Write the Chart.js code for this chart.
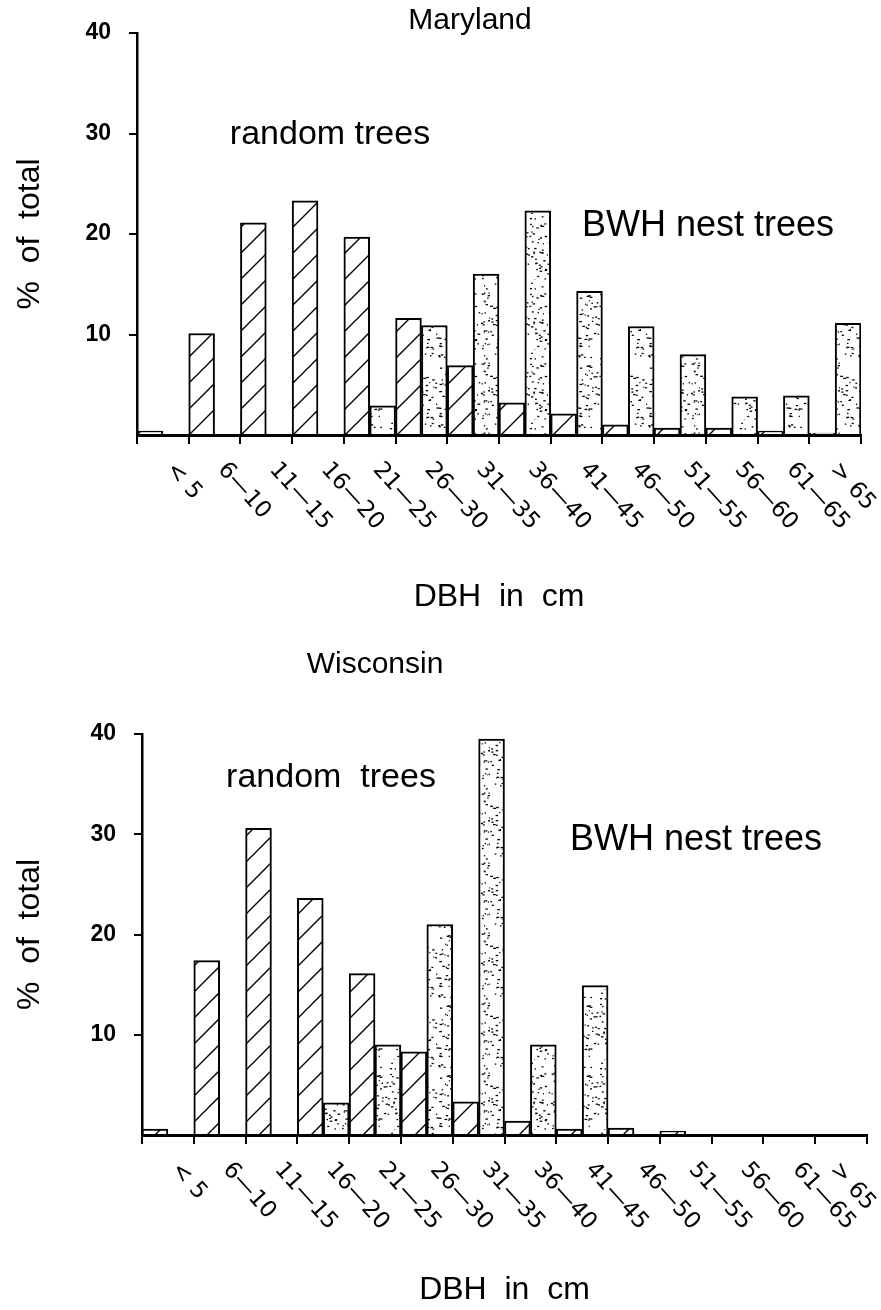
<!DOCTYPE html>
<html>
<head>
<meta charset="utf-8">
<script src="https://cdn.jsdelivr.net/npm/chart.js@4.4.1/dist/chart.umd.min.js"></script>
<style>
  html, body { margin: 0; padding: 0; background: #fff; }
  .box { position: relative; width: 881px; }
  canvas { display: block; }
</style>
</head>
<body>
<div class="box" style="height:640px"><canvas id="marylandChart" width="881" height="640"></canvas></div>
<div class="box" style="height:670px"><canvas id="wisconsinChart" width="881" height="670"></canvas></div>
<script>
  const dbhClasses = ["< 5", "6—10", "11—15", "16—20", "21—25", "26—30", "31—35", "36—40", "41—45", "46—50", "51—55", "56—60", "61—65", "> 65"]

  // % of total
  const marylandRandom = [0.4, 10.1, 21.1, 23.3, 19.7, 11.6, 6.9, 3.2, 2.1, 1.0, 0.7, 0.7, 0.4, 0.2]
  const marylandNest = [0, 0, 0, 0, 2.9, 10.9, 16.0, 22.3, 14.3, 10.8, 8.0, 3.8, 3.9, 11.1]

  const wisconsinRandom = [0.6, 17.4, 30.6, 23.6, 16.1, 8.3, 3.3, 1.4, 0.6, 0.7, 0.4, 0, 0, 0]
  const wisconsinNest = [0, 0, 0, 3.2, 9.0, 21.0, 39.5, 9.0, 14.9, 0, 0, 0, 0, 0]

  const yMax = 40
  const yStep = 10

  Chart.defaults.font.family = "'Liberation Sans', Arial, sans-serif"
  Chart.defaults.color = "#000"

  // diagonal hatching for random trees
  function hatchPattern() {
    const c = document.createElement("canvas")
    c.width = 26
    c.height = 26
    const g = c.getContext("2d")
    g.fillStyle = "#fff"
    g.fillRect(0, 0, 26, 26)
    g.strokeStyle = "#000"
    g.lineWidth = 1.4
    g.beginPath()
    for (const k of [-26, 0, 26]) {
      g.moveTo(-4, 30 + k)
      g.lineTo(30, -4 + k)
    }
    g.stroke()
    return g.createPattern(c, "repeat")
  }

  // stipple for nest trees (fixed hash so the texture is the same every run)
  function dotPattern() {
    const c = document.createElement("canvas")
    c.width = 70
    c.height = 70
    const g = c.getContext("2d")
    g.fillStyle = "#fff"
    g.fillRect(0, 0, 70, 70)
    g.fillStyle = "#000"
    const hash = (n) => {
      const v = Math.sin(n * 12.9898 + 78.233) * 43758.5453
      return v - Math.floor(v)
    }
    for (let i = 0; i < 150; i++) {
      const x = hash(i * 3 + 1) * 70
      const y = hash(i * 3 + 2) * 70
      const w = 1 + hash(i * 3 + 3) * 1.8
      g.fillRect(x, y, w, 1.3)
    }
    return g.createPattern(c, "repeat")
  }

  // slanted category labels (read downwards) + free text on the figure
  const paperText = {
    id: "paperText",
    afterDraw(chart, args, opts) {
      const ctx = chart.ctx
      const xs = chart.scales.x
      const angle = 48 * Math.PI / 180
      ctx.save()
      ctx.fillStyle = "#000"
      ctx.font = "23px 'DejaVu Sans'"
      ctx.textAlign = "left"
      ctx.textBaseline = "middle"
      xs.ticks.forEach((t, i) => {
        const w = ctx.measureText(dbhClasses[i]).width
        // keep the last label inside the page, as in the original
        const px = Math.min(xs.getPixelForTick(i) + 7, chart.width - w * Math.cos(angle) - 10)
        ctx.save()
        ctx.translate(px, xs.top + 31)
        ctx.rotate(angle)
        ctx.fillText(dbhClasses[i], 0, 0)
        ctx.restore()
      })
      ctx.textAlign = "center"
      opts.notes.forEach((n) => {
        ctx.font = n.size + "px 'Liberation Sans'"
        ctx.fillText(n.text, n.x, n.y)
      })
      ctx.restore()
    },
  }

  function drawChart(canvas, random, nest, layout, notes) {
    return new Chart(canvas, {
      type: "bar",
      data: {
        labels: dbhClasses,
        datasets: [
          {
            label: "random trees",
            data: random,
            backgroundColor: hatchPattern(),
            borderColor: "#000",
            borderWidth: 2,
          },
          {
            label: "BWH nest trees",
            data: nest,
            backgroundColor: dotPattern(),
            borderColor: "#000",
            borderWidth: 2,
          },
        ],
      },
      options: {
        responsive: false,
        animation: false,
        devicePixelRatio: 1,
        categoryPercentage: 1,
        barPercentage: 1,
        layout: { padding: { top: layout.top, right: layout.right, left: 0, bottom: 0 } },
        plugins: {
          legend: { display: false },
          tooltip: { enabled: false },
          paperText: { notes: notes },
        },
        scales: {
          x: {
            offset: true,
            grid: { offset: true, drawOnChartArea: false, tickLength: 9, color: "#000", lineWidth: 2 },
            border: { display: true, color: "#000", width: 3 },
            ticks: { display: false },
            title: {
              display: true,
              text: "DBH  in  cm",
              font: { size: 32 },
              padding: { top: 0, bottom: layout.titlePad },
            },
            afterFit: (s) => {
              s.height = layout.xHeight
            },
          },
          y: {
            min: 0,
            max: yMax,
            ticks: {
              stepSize: yStep,
              padding: 18,
              font: { size: 23, weight: "bold" },
              callback: (v) => (v === 0 ? "" : v),
            },
            grid: {
              drawOnChartArea: false,
              tickLength: 8,
              lineWidth: 2,
              tickColor: (c) => (c.tick && c.tick.value === 0 ? "rgba(0,0,0,0)" : "#000"),
            },
            border: { display: true, color: "#000", width: 2.5 },
            title: {
              display: true,
              text: "%  of  total",
              font: { size: 32 },
              padding: { top: 11, bottom: 0 },
            },
            afterFit: (s) => {
              s.width = layout.left
            },
          },
        },
      },
      plugins: [paperText],
    })
  }

  drawChart(
    document.getElementById("marylandChart"),
    marylandRandom,
    marylandNest,
    { top: 33, right: 20, left: 137, xHeight: 205, titlePad: 24 },
    [
      { text: "Maryland", x: 470, y: 21, size: 30 },
      { text: "random trees", x: 330, y: 135, size: 34 },
      { text: "BWH nest trees", x: 708, y: 226, size: 36 },
    ]
  )

  drawChart(
    document.getElementById("wisconsinChart"),
    wisconsinRandom,
    wisconsinNest,
    { top: 94, right: 14, left: 142, xHeight: 175, titlePad: 1 },
    [
      { text: "Wisconsin", x: 375, y: 25, size: 30 },
      { text: "random  trees", x: 331, y: 138, size: 34 },
      { text: "BWH nest trees", x: 696, y: 200, size: 36 },
    ]
  )
</script>
</body>
</html>
